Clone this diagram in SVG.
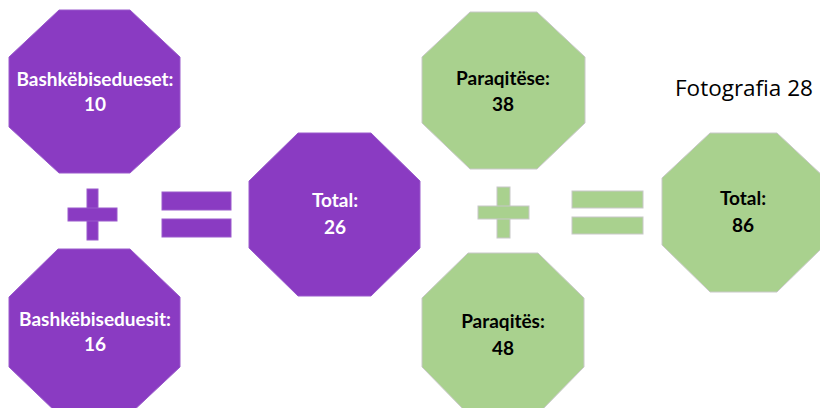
<svg xmlns="http://www.w3.org/2000/svg" width="820" height="408" viewBox="0 0 820 408">
<style>
.p{fill:#8A3BC2;stroke:#9A5BCC;stroke-width:1}
.g{fill:#A9D18E;stroke:#C8C8C8;stroke-width:1}
.tw{font-family:Lato,"Open Sans","Liberation Sans",sans-serif;font-weight:bold;font-size:19px;fill:#FFFFFF;text-anchor:middle}
.tb{font-family:Lato,"Open Sans","Liberation Sans",sans-serif;font-weight:bold;font-size:19px;fill:#000000;text-anchor:middle}
.cap{font-family:"Open Sans","Liberation Sans",sans-serif;font-size:22.5px;fill:#000000}
</style>
<rect width="820" height="408" fill="#FFFFFF"/>
<g id="operators">
  <g id="plus-purple">
    <rect class="p" x="87" y="189" width="11" height="51"/>
    <rect class="p" x="68" y="208" width="49" height="13"/>
  </g>
  <g id="equals-purple">
    <rect class="p" x="162" y="192" width="69" height="18"/>
    <rect class="p" x="162" y="219" width="69" height="18"/>
  </g>
  <g id="plus-green">
    <rect class="g" x="497" y="187" width="13" height="51"/>
    <rect class="g" x="478" y="206" width="51" height="13"/>
  </g>
  <g id="equals-green">
    <rect class="g" x="572" y="191" width="71" height="17"/>
    <rect class="g" x="572" y="217" width="71" height="17"/>
  </g>
</g>
<g id="n1">
  <polygon class="p" points="59,10 130,10 180,57 180,127 130,173 59,173 9,127 9,57"/>
  <text class="tw" x="95" y="86">Bashkëbisedueset:</text>
  <text class="tw" x="95" y="111">10</text>
</g>
<g id="n2">
  <polygon class="p" points="58,249 130,249 180,297 180,367 130,414 58,414 9,367 9,297"/>
  <text class="tw" x="95" y="326">Bashkëbiseduesit:</text>
  <text class="tw" x="95" y="351">16</text>
</g>
<g id="n3">
  <polygon class="p" points="298,133 371,133 420,181 420,248 371,296 298,296 249,248 249,181"/>
  <text class="tw" x="335" y="207">Total:</text>
  <text class="tw" x="335" y="234">26</text>
</g>
<g id="n4">
  <polygon class="g" points="470,12 537,12 585,57 585,123 537,169 470,169 422,123 422,57"/>
  <text class="tb" x="503" y="85">Paraqitëse:</text>
  <text class="tb" x="503" y="111">38</text>
</g>
<g id="n5">
  <polygon class="g" points="468,253 538,253 584,298 584,367 538,414 468,414 422,367 422,298"/>
  <text class="tb" x="503" y="328">Paraqitës:</text>
  <text class="tb" x="503" y="355">48</text>
</g>
<g id="n6">
  <polygon class="g" points="710,133 777,133 825,178 825,245 777,292 710,292 662,245 662,178"/>
  <text class="tb" x="743" y="205">Total:</text>
  <text class="tb" x="743" y="232">86</text>
</g>
<g id="caption">
  <text class="cap" x="675" y="96">Fotografia 28</text>
</g>
<g id="connectors"></g>
</svg>
